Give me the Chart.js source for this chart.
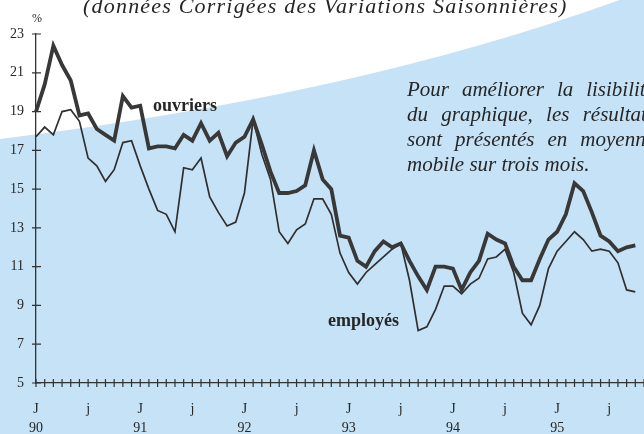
<!DOCTYPE html>
<html>
<head>
<meta charset="utf-8">
<script src="https://cdn.jsdelivr.net/npm/chart.js@4/dist/chart.umd.min.js"></script>
<style>
  html, body { margin: 0; padding: 0; background: #fff; }
  #wrap { position: relative; width: 644px; height: 434px; overflow: hidden; }
  #wrap canvas { position: absolute; left: 0; top: 0; }
  .t { position: absolute; font-family: "Liberation Serif", "DejaVu Serif", serif; color: #262626; white-space: nowrap; }
  #title { left: 83px; top: -7px; font-size: 22px; line-height: 25px; font-style: italic; letter-spacing: 1.2px; }
  .note { left: 407px; width: 248px; font-size: 21px; line-height: 25px; font-style: italic; text-align: justify; text-align-last: justify; }
  .note.last { text-align-last: left; }
  #ouv { left: 153px; top: 95px; font-size: 18px; line-height: 20px; font-weight: bold; }
  #emp { left: 328px; top: 310px; font-size: 18px; line-height: 20px; font-weight: bold; }
  #pct { left: 32px; top: 12px; font-size: 12px; line-height: 12px; }
</style>
</head>
<body>
<div id="wrap">
  <canvas id="chart" width="644" height="434"></canvas>
  <div class="t" id="title">(données Corrigées des Variations Saisonnières)</div>
  <div class="t note" style="top:77px">Pour améliorer la lisibilité</div>
  <div class="t note" style="top:102px">du graphique, les résultats</div>
  <div class="t note" style="top:127px">sont présentés en moyenne</div>
  <div class="t note last" style="top:152px">mobile sur trois mois.</div>
  <div class="t" id="ouv">ouvriers</div>
  <div class="t" id="emp">employés</div>
  <div class="t" id="pct">%</div>
</div>
<script>
// monthly values, Jan 1990 -> Oct 1995 (3-month moving average, %)
const years = ['90', '91', '92', '93', '94', '95'];
const ouvriers = [
  19.0, 20.4, 22.4, 21.4, 20.6, 18.8, 18.9, 18.1, 17.8, 17.5, 19.8, 19.2,
  19.3, 17.1, 17.2, 17.2, 17.1, 17.8, 17.5, 18.4, 17.5, 17.9, 16.7, 17.4,
  17.7, 18.6, 17.3, 15.9, 14.8, 14.8, 14.9, 15.2, 17.0, 15.5, 15.0, 12.6,
  12.5, 11.3, 11.0, 11.8, 12.3, 12.0, 12.2, 11.3, 10.5, 9.8, 11.0, 11.0,
  10.9, 9.8, 10.7, 11.3, 12.7, 12.4, 12.2, 11.0, 10.3, 10.3, 11.4, 12.4,
  12.8, 13.7, 15.3, 14.9, 13.8, 12.6, 12.3, 11.8, 12.0, 12.1,
];
const employes = [
  17.7, 18.2, 17.8, 19.0, 19.1, 18.5, 16.6, 16.2, 15.4, 16.0, 17.4, 17.5,
  16.2, 15.0, 13.9, 13.7, 12.8, 16.1, 16.0, 16.6, 14.6, 13.8, 13.1, 13.3,
  14.8, 18.6, 16.8, 15.5, 12.8, 12.2, 12.9, 13.2, 14.5, 14.5, 13.7, 11.7,
  10.7, 10.1, 10.7, 11.1, 11.5, 11.9, 12.2, 10.3, 7.7, 7.9, 8.8, 10.0,
  10.0, 9.6, 10.1, 10.4, 11.4, 11.5, 11.9, 10.7, 8.6, 8.0, 9.0, 10.9,
  11.8, 12.3, 12.8, 12.4, 11.8, 11.9, 11.8, 11.2, 9.8, 9.7,
];
const yTicks = [5, 7, 9, 11, 13, 15, 17, 19, 21, 23];

// one category per month, plus one spare month so the axis runs to the edge
const months = [];
years.forEach(yr => { for (let m = 1; m <= 12; m++) months.push(yr + '-' + m); });
months.length = 71;

const INK = '#333';

const backdrop = {
  id: 'backdrop',
  beforeDraw(chart) {
    const { ctx, width, height } = chart;
    ctx.save();
    ctx.fillStyle = '#fff';
    ctx.fillRect(0, 0, width, height);
    ctx.fillStyle = 'rgb(197, 226, 246)';
    ctx.beginPath();
    ctx.moveTo(0, 139);
    ctx.quadraticCurveTo(360, 95, 625, -2);
    ctx.lineTo(width, -2);
    ctx.lineTo(width, height);
    ctx.lineTo(0, height);
    ctx.closePath();
    ctx.fill();
    ctx.restore();
  },
};

// tick marks that cross the axis lines
const crossTicks = {
  id: 'crossTicks',
  afterDatasetsDraw(chart) {
    const { ctx, scales: { x, y } } = chart;
    ctx.save();
    ctx.strokeStyle = INK;
    ctx.lineWidth = 1.2;
    ctx.beginPath();
    x.ticks.forEach((t, i) => {
      const px = x.getPixelForTick(i);
      ctx.moveTo(px, y.bottom - 4);
      ctx.lineTo(px, y.bottom + 4);
    });
    y.ticks.forEach((t, i) => {
      const py = y.getPixelForTick(i);
      ctx.moveTo(x.left - 4, py);
      ctx.lineTo(x.left + 5, py);
    });
    ctx.stroke();
    ctx.restore();
  },
};

Chart.defaults.font.family = '"Liberation Serif", "DejaVu Serif", serif';
Chart.defaults.color = '#262626';

new Chart(document.getElementById('chart'), {
  type: 'line',
  data: {
    labels: months,
    datasets: [
      {
        label: 'ouvriers',
        data: ouvriers,
        borderColor: '#383838',
        borderWidth: 3.8,
        pointRadius: 0,
        tension: 0,
      },
      {
        label: 'employés',
        data: employes,
        borderColor: '#2f2f2f',
        borderWidth: 1.7,
        pointRadius: 0,
        tension: 0,
      },
    ],
  },
  options: {
    responsive: false,
    animation: false,
    events: [],
    layout: { padding: { top: 34, right: 0, left: 0, bottom: 0 } },
    plugins: { legend: { display: false }, tooltip: { enabled: false } },
    scales: {
      x: {
        type: 'category',
        offset: false,
        afterFit: s => { s.height = 51; },
        // tick length (not tick padding) keeps the labels low without
        // reserving space at the right end of the axis
        grid: { display: false, drawTicks: true, tickLength: 17 },
        border: { display: true, color: INK, width: 1.3 },
        ticks: {
          autoSkip: false,
          maxRotation: 0,
          padding: 0,
          font: { size: 14, lineHeight: '19px' },
          callback: (v, i) => (i % 12 === 0 ? ['J', years[i / 12]] : i % 12 === 6 ? 'j' : ''),
        },
      },
      y: {
        min: 5,
        max: 23,
        afterFit: s => { s.width = 36; },
        afterBuildTicks: s => { s.ticks = yTicks.map(value => ({ value })); },
        grid: { display: false, drawTicks: false },
        border: { display: true, color: INK, width: 1.3 },
        ticks: { padding: 12, font: { size: 14 } },
      },
    },
  },
  plugins: [backdrop, crossTicks],
});
</script>
</body>
</html>
